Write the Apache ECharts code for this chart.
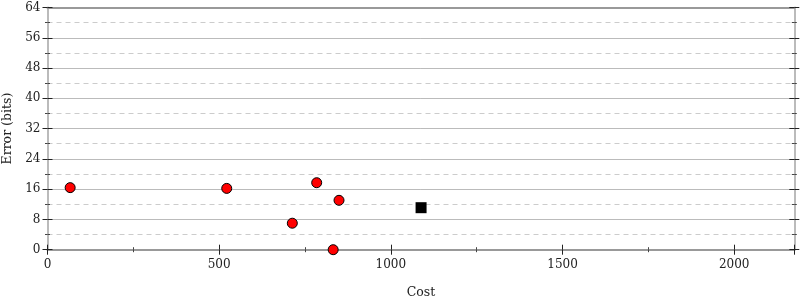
<!DOCTYPE html>
<html><head><meta charset="utf-8">
<script src="https://cdn.jsdelivr.net/npm/echarts@6/dist/echarts.min.js"></script>
<style>html,body{margin:0;padding:0;background:#fff}#c{width:800px;height:300px}</style>
</head><body><div id="c"></div>
<script>
const costRed = [66, 522, 784, 849, 713, 832];
const errRed = [16.4, 16.2, 17.7, 13.05, 7.0, 0];
const costBlack = [1088];
const errBlack = [11.1];
const xMax = 2175;
const yTicks = [0, 8, 16, 24, 32, 40, 48, 56, 64];
const xTicks = [0, 500, 1000, 1500, 2000];

const font = 'DejaVu Serif';
const chart = echarts.init(document.getElementById('c'), null, {renderer: 'canvas'});
const xBase = {type: 'value', min: 0, max: xMax, interval: 500, gridIndex: 0};
const yBase = {type: 'value', min: 0, max: 64, interval: 8, gridIndex: 0};
chart.setOption({
  animation: false,
  textStyle: {fontFamily: font},
  grid: {left: 47.5, right: 5.7, top: 7.5, bottom: 50.3, containLabel: false, outerBoundsMode: 'none'},
  xAxis: [
    Object.assign({}, xBase, {
      position: 'bottom', name: 'Cost', nameLocation: 'middle', nameGap: 37,
      nameTextStyle: {fontFamily: font, fontSize: 12.5, color: '#222'},
      axisLine: {show: true, onZero: false, lineStyle: {color: '#999', width: 2}},
      axisTick: {show: true, inside: false, length: 5, lineStyle: {color: '#222'}},
      minorTick: {show: true, splitNumber: 2, length: 2.5, lineStyle: {color: '#444'}},
      axisLabel: {show: true, margin: 9, fontFamily: font, fontSize: 12, color: '#222',
        formatter: v => xTicks.indexOf(v) >= 0 ? String(v) : ''},
      splitLine: {show: false}
    }),
    Object.assign({}, xBase, {
      position: 'bottom', offset: 0,
      axisLine: {show: false, onZero: false},
      axisTick: {show: true, inside: true, length: 5, lineStyle: {color: '#222'}},
      minorTick: {show: true, splitNumber: 2, length: 2.5, lineStyle: {color: '#444'}},
      axisLabel: {show: false}, splitLine: {show: false}
    }),
    Object.assign({}, xBase, {
      position: 'top',
      axisLine: {show: true, onZero: false, lineStyle: {color: '#999', width: 2}},
      axisTick: {show: false}, axisLabel: {show: false}, splitLine: {show: false}
    })
  ],
  yAxis: [
    Object.assign({}, yBase, {
      position: 'left', name: 'Error (bits)', nameLocation: 'middle', nameGap: 32, nameRotate: 90,
      nameTextStyle: {fontFamily: font, fontSize: 12.5, color: '#222'},
      axisLine: {show: true, onZero: false, lineStyle: {color: '#bbb', width: 2}},
      axisTick: {show: true, inside: false, length: 5, lineStyle: {color: '#222'}},
      minorTick: {show: true, splitNumber: 2, length: 2.5, lineStyle: {color: '#444'}},
      axisLabel: {show: true, margin: 7, fontFamily: font, fontSize: 12, color: '#222',
        formatter: v => yTicks.indexOf(v) >= 0 ? String(v) : ''},
      splitLine: {show: true, lineStyle: {color: '#bbb', width: 1}},
      minorSplitLine: {show: true, lineStyle: {color: '#ccc', width: 1, type: [5, 4]}}
    }),
    Object.assign({}, yBase, {
      position: 'left', offset: 0,
      axisLine: {show: false, onZero: false},
      axisTick: {show: true, inside: true, length: 5, lineStyle: {color: '#222'}},
      minorTick: {show: true, splitNumber: 2, length: 2.5, lineStyle: {color: '#444'}},
      axisLabel: {show: false}, splitLine: {show: false}
    }),
    Object.assign({}, yBase, {
      position: 'right', offset: 0,
      axisLine: {show: true, onZero: false, lineStyle: {color: '#bbb', width: 2}},
      axisTick: {show: true, inside: true, length: 5, lineStyle: {color: '#222'}},
      minorTick: {show: true, splitNumber: 2, length: 2.5, lineStyle: {color: '#444'}},
      axisLabel: {show: false}, splitLine: {show: false}
    }),
    Object.assign({}, yBase, {
      position: 'right', offset: 0,
      axisLine: {show: false, onZero: false},
      axisTick: {show: true, inside: false, length: 5, lineStyle: {color: '#222'}},
      minorTick: {show: true, splitNumber: 2, length: 2.5, lineStyle: {color: '#444'}},
      axisLabel: {show: false}, splitLine: {show: false}
    })
  ],
  series: [
    {type: 'scatter', xAxisIndex: 0, yAxisIndex: 0, symbol: 'circle', symbolSize: 10,
      itemStyle: {color: '#ff0000', borderColor: '#000', borderWidth: 1, opacity: 1},
      data: costRed.map((c, i) => [c, errRed[i]]), z: 5},
    {type: 'scatter', xAxisIndex: 0, yAxisIndex: 0, symbol: 'rect', symbolSize: 11,
      itemStyle: {color: '#000', opacity: 1},
      data: costBlack.map((c, i) => [c, errBlack[i]]), z: 5}
  ]
});
</script></body></html>
